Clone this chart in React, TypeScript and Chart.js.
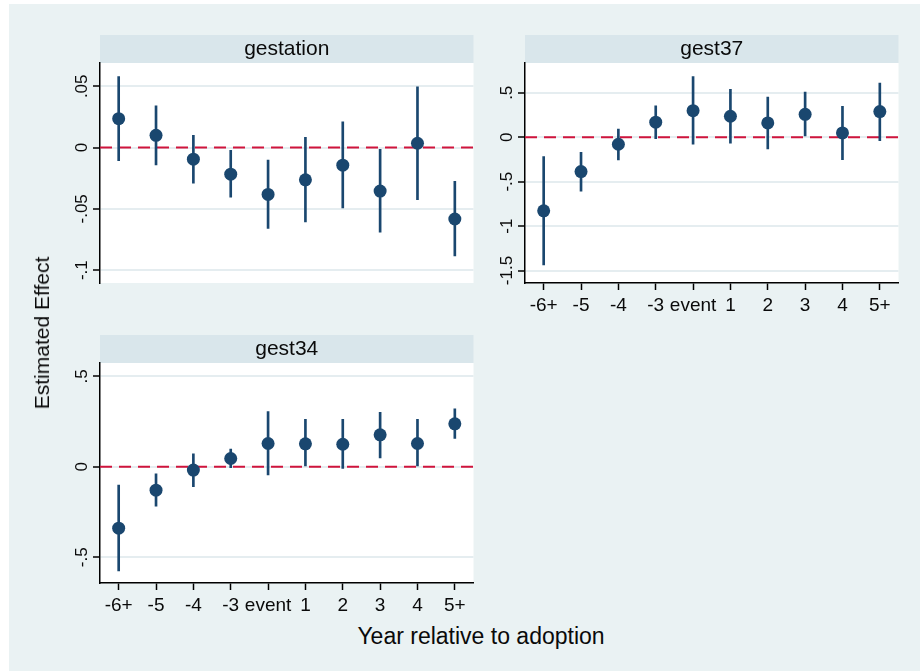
import React, { useEffect, useRef } from "react";
import { Chart, registerables } from "chart.js";

Chart.register(...registerables);

// Event-time categories shared by all panels
const periods = ["-6+", "-5", "-4", "-3", "event", "1", "2", "3", "4", "5+"];

// gestation: point estimates and 95% interval bounds
const gestationEst = [0.0236, 0.01, -0.0095, -0.0217, -0.0382, -0.0263, -0.0144, -0.0355, 0.0035, -0.0583];
const gestationLo = [-0.0106, -0.0141, -0.029, -0.0404, -0.066, -0.0607, -0.0493, -0.0691, -0.0425, -0.0884];
const gestationHi = [0.058, 0.0341, 0.01, -0.0022, -0.0103, 0.0084, 0.0211, -0.0014, 0.0496, -0.0276];
const gestationTicks = [-0.1, -0.05, 0, 0.05];
const gestationTickLabels = ["-.1", "-.05", "0", ".05"];

// gest37
const gest37Est = [-0.828, -0.386, -0.079, 0.169, 0.299, 0.236, 0.161, 0.258, 0.048, 0.288];
const gest37Lo = [-1.438, -0.607, -0.255, -0.015, -0.079, -0.067, -0.131, 0.015, -0.252, -0.038];
const gest37Hi = [-0.218, -0.169, 0.093, 0.352, 0.681, 0.539, 0.453, 0.509, 0.348, 0.61];
const gest37Ticks = [-1.5, -1, -0.5, 0, 0.5];
const gest37TickLabels = ["-1.5", "-1", "-.5", "0", ".5"];

// gest34
const gest34Est = [-0.339, -0.129, -0.018, 0.046, 0.129, 0.127, 0.125, 0.177, 0.129, 0.238];
const gest34Lo = [-0.575, -0.217, -0.11, -0.004, -0.044, 0.0, -0.009, 0.05, 0.0, 0.157];
const gest34Hi = [-0.101, -0.039, 0.072, 0.098, 0.306, 0.262, 0.262, 0.302, 0.262, 0.32];
const gest34Ticks = [-0.5, 0, 0.5];
const gest34TickLabels = ["-.5", "0", ".5"];

const FONT = '"Liberation Sans", Arial, Helvetica, sans-serif';
const BG = "#EAF2F3";
const STRIP = "#D9E6EB";
const NAVY = "#1A476F";
const RED = "#D0143C";
const GRID = "#E5EDF0";
const INK = "#0A0A0A";

// Draws the panel background, header strip, rotated y labels and zero line
const panelPlugin = {
  id: "panelDecor",
  beforeDraw(chart: any, _args: any, opts: any) {
    const { ctx, chartArea: a } = chart;
    ctx.save();
    ctx.fillStyle = "#ffffff";
    ctx.fillRect(a.left, a.top, a.right - a.left, a.bottom - a.top);
    ctx.fillStyle = STRIP;
    ctx.fillRect(a.left, a.top - 28, a.right - a.left, 28);
    ctx.fillStyle = INK;
    ctx.font = `21px ${FONT}`;
    ctx.textAlign = "center";
    ctx.textBaseline = "middle";
    ctx.fillText(opts.title, (a.left + a.right) / 2, a.top - 13.5);

    const ys = chart.scales.y;
    ctx.font = `17px ${FONT}`;
    ctx.textBaseline = "alphabetic";
    (opts.tickValues as number[]).forEach((v, i) => {
      const py = ys.getPixelForValue(v);
      ctx.save();
      ctx.translate(a.left - 13, py);
      ctx.rotate(-Math.PI / 2);
      ctx.fillText(opts.tickLabels[i], 0, 0);
      ctx.restore();
    });
    ctx.restore();
  },
  beforeDatasetsDraw(chart: any) {
    const { ctx, chartArea: a } = chart;
    const py = chart.scales.y.getPixelForValue(0);
    ctx.save();
    ctx.strokeStyle = RED;
    ctx.lineWidth = 2;
    ctx.setLineDash([12, 7]);
    ctx.beginPath();
    ctx.moveTo(a.left, py);
    ctx.lineTo(a.right, py);
    ctx.stroke();
    ctx.restore();
  },
};

type PanelProps = {
  title: string;
  est: number[];
  lo: number[];
  hi: number[];
  yMin: number;
  yMax: number;
  tickValues: number[];
  tickLabels: string[];
  showX: boolean;
  left: number;
  top: number;
};

function Panel(p: PanelProps) {
  const ref = useRef<HTMLCanvasElement>(null);

  useEffect(() => {
    if (!ref.current) return;
    const chart = new Chart(ref.current, {
      type: "bar",
      data: {
        labels: periods,
        datasets: [
          {
            type: "line",
            data: p.est,
            showLine: false,
            pointRadius: 6.5,
            pointHoverRadius: 6.5,
            pointBackgroundColor: NAVY,
            pointBorderWidth: 0,
            borderColor: NAVY,
            order: 0,
          } as any,
          {
            type: "bar",
            data: p.lo.map((l, i) => [l, p.hi[i]]),
            backgroundColor: NAVY,
            borderWidth: 0,
            barThickness: 2,
            order: 1,
          } as any,
        ],
      },
      options: {
        responsive: false,
        animation: false,
        events: [],
        layout: { padding: { left: 0, right: 6, top: 33, bottom: 0 } },
        plugins: {
          legend: { display: false },
          tooltip: { enabled: false },
          panelDecor: { title: p.title, tickValues: p.tickValues, tickLabels: p.tickLabels },
        } as any,
        scales: {
          x: {
            type: "category",
            offset: true,
            afterFit: (s: any) => {
              s.height = 37;
            },
            border: { display: p.showX, color: "#000", width: 1.5 },
            grid: {
              display: p.showX,
              offset: false,
              drawOnChartArea: false,
              drawTicks: true,
              tickLength: 7,
              tickColor: "#000",
              tickWidth: 1.5,
            },
            ticks: {
              display: p.showX,
              autoSkip: false,
              maxRotation: 0,
              padding: 4,
              color: INK,
              font: { family: FONT, size: 19 },
            },
          },
          y: {
            type: "linear",
            min: p.yMin,
            max: p.yMax,
            afterFit: (s: any) => {
              s.width = 50;
            },
            afterBuildTicks: (s: any) => {
              s.ticks = p.tickValues.map((v) => ({ value: v }));
            },
            border: { display: true, color: "#000", width: 1.5 },
            grid: {
              color: GRID,
              lineWidth: 2,
              drawTicks: true,
              tickLength: 7,
              tickColor: "#000",
              tickWidth: 1.5,
            },
            ticks: { display: false },
          },
        },
      },
      plugins: [panelPlugin as any],
    });
    return () => chart.destroy();
  }, []);

  return (
    <canvas
      ref={ref}
      width={430}
      height={290}
      style={{ position: "absolute", left: p.left, top: p.top, width: 430, height: 290 }}
    />
  );
}

export default function App() {
  return (
    <div
      style={{
        position: "absolute",
        left: 9,
        top: 4,
        width: 911,
        height: 667,
        background: BG,
        overflow: "hidden",
        fontFamily: FONT,
        color: INK,
      }}
    >
      <Panel
        title="gestation"
        est={gestationEst}
        lo={gestationLo}
        hi={gestationHi}
        yMin={-0.1105}
        yMax={0.069}
        tickValues={gestationTicks}
        tickLabels={gestationTickLabels}
        showX={false}
        left={41}
        top={26}
      />
      <Panel
        title="gest37"
        est={gest37Est}
        lo={gest37Lo}
        hi={gest37Hi}
        yMin={-1.64}
        yMax={0.835}
        tickValues={gest37Ticks}
        tickLabels={gest37TickLabels}
        showX={true}
        left={466}
        top={26}
      />
      <Panel
        title="gest34"
        est={gest34Est}
        lo={gest34Lo}
        hi={gest34Hi}
        yMin={-0.642}
        yMax={0.574}
        tickValues={gest34Ticks}
        tickLabels={gest34TickLabels}
        showX={true}
        left={41}
        top={326}
      />
      <div
        style={{
          position: "absolute",
          left: 33,
          top: 329,
          fontSize: 21,
          whiteSpace: "nowrap",
          transform: "translate(-50%, -50%) rotate(-90deg)",
        }}
      >
        Estimated Effect
      </div>
      <div
        style={{
          position: "absolute",
          left: 472,
          top: 632,
          fontSize: 23,
          whiteSpace: "nowrap",
          transform: "translate(-50%, -50%)",
        }}
      >
        Year relative to adoption
      </div>
    </div>
  );
}
